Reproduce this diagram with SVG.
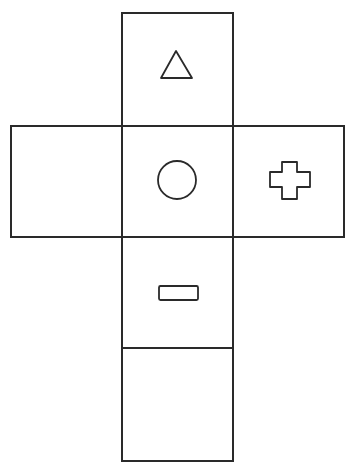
<svg xmlns="http://www.w3.org/2000/svg" width="345" height="465" viewBox="0 0 345 465">
<style>
.f{fill:none;stroke:#2a2a2a;stroke-width:2}
.s{fill:none;stroke:#2a2a2a;stroke-width:1.8;stroke-linejoin:round}
</style>
<rect width="345" height="465" fill="#fff"/>
<g id="top"><rect class="f" x="122" y="13" width="111" height="113"/><polygon class="s" points="176,51 161,78 192,78"/></g>
<g id="left"><rect class="f" x="11" y="126" width="111" height="111"/></g>
<g id="center"><rect class="f" x="122" y="126" width="111" height="111"/><circle class="s" cx="177" cy="180" r="19"/></g>
<g id="right"><rect class="f" x="233" y="126" width="111" height="111"/><path class="s" d="M282,162 H297 V172 H310 V187 H297 V199 H282 V187 H270 V172 H282 Z"/></g>
<g id="bottom1"><rect class="f" x="122" y="237" width="111" height="111"/><rect class="s" x="159" y="286" width="39" height="14" rx="1.5"/></g>
<g id="bottom2"><rect class="f" x="122" y="348" width="111" height="113"/></g>
</svg>
